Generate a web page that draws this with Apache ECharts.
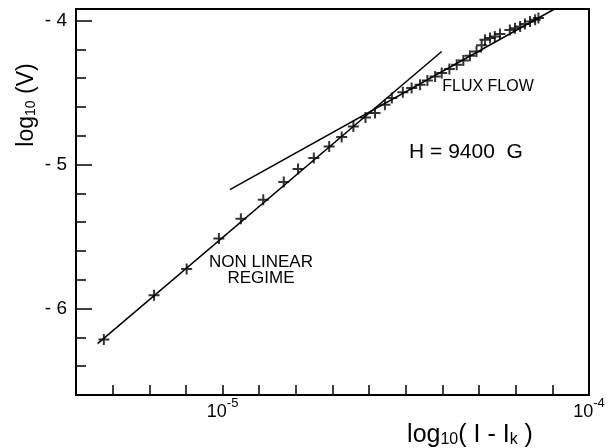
<!DOCTYPE html>
<html>
<head>
<meta charset="utf-8">
<script src="https://cdn.jsdelivr.net/npm/echarts@6/dist/echarts.min.js"></script>
<style>html,body{margin:0;padding:0;background:#fff}#c{width:613px;height:448px}</style>
</head>
<body>
<div id="c"></div>
<script>
// x: log10(I-Ik), y: log10(V)
const xTicks = [-5.4,-5.3,-5.2,-5.1,-5.0,-4.9,-4.8,-4.7,-4.6,-4.5,-4.4,-4.3,-4.2,-4.1,-4.0];
const xLabels = [-5, -4];
const yMajor = [-6, -5, -4];
const yMinor = [-6.6,-6.4,-6.2,-5.8,-5.6,-5.4,-5.2,-4.8,-4.6,-4.4,-4.2];
const points = [
  [-5.324,-6.215],[-5.187,-5.908],[-5.098,-5.725],[-5.010,-5.514],[-4.950,-5.376],
  [-4.889,-5.244],[-4.833,-5.121],[-4.794,-5.031],[-4.751,-4.955],[-4.709,-4.874],
  [-4.675,-4.809],[-4.643,-4.735],[-4.610,-4.673],[-4.584,-4.642],[-4.557,-4.585],
  [-4.538,-4.538],[-4.508,-4.498],[-4.484,-4.469],[-4.461,-4.446],[-4.441,-4.416],
  [-4.420,-4.388],[-4.402,-4.365],[-4.381,-4.337],[-4.361,-4.307],[-4.343,-4.277],
  [-4.325,-4.245],[-4.307,-4.215],[-4.293,-4.171],[-4.284,-4.134],[-4.270,-4.122],
  [-4.257,-4.111],[-4.243,-4.094],[-4.216,-4.065],[-4.202,-4.053],[-4.188,-4.042],
  [-4.175,-4.025],[-4.161,-4.007],[-4.147,-3.995],[-4.138,-3.983]
];
const nonLinearFit = [[-5.341,-6.243],[-4.402,-4.215]];
const fluxFlowFit = [[-4.980,-5.174],[-4.094,-3.92]];

const FONT = 'Liberation Sans';
const chart = echarts.init(document.getElementById('c'), null, {renderer:'canvas'});
chart.setOption({
  animation: false,
  backgroundColor: '#fff',
  grid: {left: 76, right: 24, top: 9, bottom: 53, show: true, borderColor: '#000', borderWidth: 2},
  xAxis: [{
    type: 'value', min: -5.4, max: -4.0,
    axisLine: {show: true, lineStyle: {color: '#000', width: 2}},
    axisTick: {show: true, inside: true, length: 10, customValues: xTicks, lineStyle: {color: '#000', width: 1.5}},
    axisLabel: {
      show: true, customValues: xLabels, margin: 2,
      formatter: v => '{b|10}{s|' + Math.round(v) + '}',
      rich: {
        b: {fontFamily: FONT, fontSize: 18, color: '#000', verticalAlign: 'bottom', lineHeight: 24},
        s: {fontFamily: FONT, fontSize: 13, color: '#000', verticalAlign: 'top', lineHeight: 12}
      }
    },
    splitLine: {show: false}
  }],
  yAxis: [{
    type: 'value', min: -6.6, max: -3.92,
    axisLine: {show: true, lineStyle: {color: '#000', width: 2}},
    axisTick: {show: true, inside: true, length: 16, customValues: yMajor, lineStyle: {color: '#000', width: 1.5}},
    axisLabel: {show: true, customValues: yMajor, margin: 9, color: '#000', fontFamily: FONT, fontSize: 19,
      formatter: v => '- ' + Math.abs(Math.round(v))},
    splitLine: {show: false}
  }, {
    type: 'value', min: -6.6, max: -3.92, position: 'left',
    axisLine: {show: false},
    axisTick: {show: true, inside: true, length: 10, customValues: yMinor, lineStyle: {color: '#000', width: 1.5}},
    axisLabel: {show: false},
    splitLine: {show: false}
  }],
  series: [
    {type: 'line', data: nonLinearFit, symbol: 'none', lineStyle: {color: '#000', width: 1.5}, silent: true},
    {type: 'line', data: fluxFlowFit, symbol: 'none', lineStyle: {color: '#000', width: 1.5}, silent: true},
    {type: 'scatter', data: points, symbol: 'path://M5,0L5,10M0,5L10,5', symbolSize: 11,
      itemStyle: {color: 'none', borderColor: '#000', borderWidth: 2}}
  ],
  graphic: [
    {type: 'text', x: 24, y: 105, rotation: Math.PI / 2,
      style: {text: '{a|log}{s|10}{a| (V)}', align: 'center', verticalAlign: 'middle',
        rich: {a: {fontFamily: FONT, fontSize: 23, fill: '#000', verticalAlign: 'bottom', lineHeight: 28},
               s: {fontFamily: FONT, fontSize: 14, fill: '#000', verticalAlign: 'bottom', lineHeight: 20}}}},
    {type: 'text', x: 470, y: 433,
      style: {text: '{a|log}{s|10}{a|( I - I}{s|k}{a| )}', align: 'center', verticalAlign: 'middle',
        rich: {a: {fontFamily: FONT, fontSize: 25, fill: '#000', verticalAlign: 'bottom', lineHeight: 30},
               s: {fontFamily: FONT, fontSize: 16, fill: '#000', verticalAlign: 'bottom', lineHeight: 20}}}},
    {type: 'text', x: 488, y: 87, style: {text: 'FLUX FLOW', fontFamily: FONT, fontSize: 16, fill: '#000', align: 'center', verticalAlign: 'middle'}},
    {type: 'text', x: 466, y: 152, style: {text: 'H = 9400  G', fontFamily: FONT, fontSize: 21, fill: '#000', align: 'center', verticalAlign: 'middle'}},
    {type: 'text', x: 261, y: 270, style: {text: 'NON LINEAR\nREGIME', fontFamily: FONT, fontSize: 17, lineHeight: 16, fill: '#000', align: 'center', verticalAlign: 'middle'}}
  ]
});
</script>
</body>
</html>
